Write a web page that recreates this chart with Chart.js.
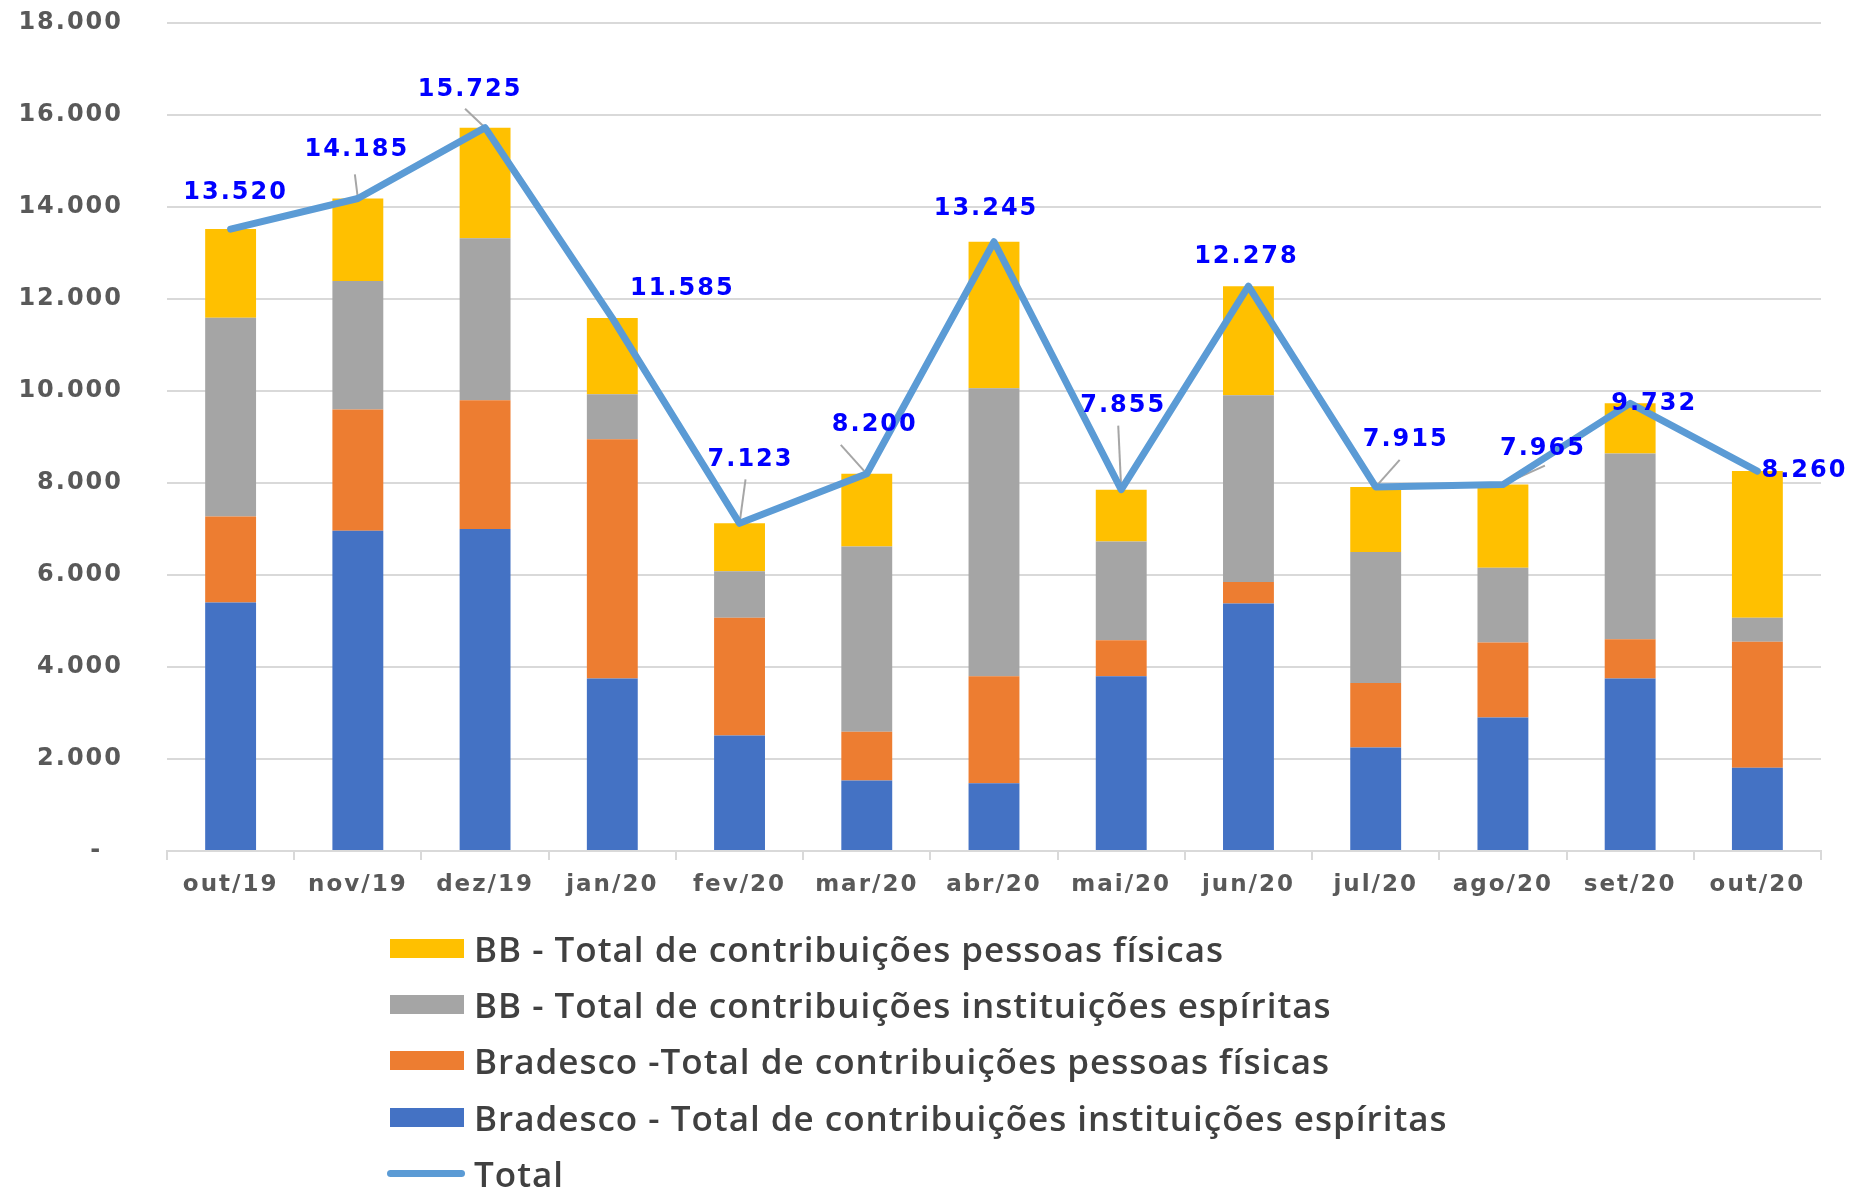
<!DOCTYPE html>
<html lang="pt-BR">
  <head>
    <meta charset="UTF-8" />
    <title>Contribuições - BB e Bradesco</title>
    <script src="https://cdn.jsdelivr.net/npm/chart.js@4.4.1/dist/chart.umd.min.js"></script>
    <style>
      html, body { margin: 0; padding: 0; background: #fff; overflow: hidden; }
      .wrap { position: relative; width: 1866px; height: 1189px; }
      #grafico { position: absolute; left: 0; top: 0; }
      #legenda {
        position: absolute; left: 387px; top: 920px;
        list-style: none; margin: 0; padding: 0;
        font-family: "Open Sans", sans-serif; font-weight: 600; font-size: 35px;
        letter-spacing: 1px; color: #404040; white-space: nowrap;
      }
      #legenda li { height: 56.3px; display: flex; align-items: center; }
      #legenda .caixa { width: 74px; height: 19px; margin-left: 3px; margin-right: 10px; }
      #legenda .linha { width: 78px; height: 7px; border-radius: 4px; margin-right: 9px; }
    </style>
  </head>
  <body>
    <div class="wrap">
      <canvas id="grafico" width="1866" height="1189"></canvas>
      <ul id="legenda"></ul>
    </div>

    <script>
      // dados
      const meses = ["out/19", "nov/19", "dez/19", "jan/20", "fev/20", "mar/20", "abr/20",
                     "mai/20", "jun/20", "jul/20", "ago/20", "set/20", "out/20"];
      const bradescoInst = [5400, 6960, 7000, 3750, 2510, 1530, 1475, 3800, 5380, 2250, 2900, 3750, 1810];
      const bradescoPF   = [1870, 2640, 2800, 5200, 2560, 1060, 2325, 780, 470, 1400, 1630, 855, 2740];
      const bbInst       = [4320, 2790, 3520, 980, 1010, 4030, 6260, 2150, 4060, 2850, 1630, 4035, 520];
      const bbPF         = [1930, 1795, 2405, 1655, 1043, 1580, 3185, 1125, 2368, 1415, 1805, 1092, 3190];
      const totais       = [13520, 14185, 15725, 11585, 7123, 8200, 13245, 7855, 12278, 7915, 7965, 9732, 8260];
      const yTicks = ["-  ", "2.000", "4.000", "6.000", "8.000", "10.000", "12.000", "14.000", "16.000", "18.000"];

      // posição dos rótulos em relação ao ponto (px) e início das linhas de chamada
      const rotuloDesloc = [[5, -36], [-1, -49], [-15, -38], [70, -29], [11, -64], [8, -49], [-8, -33],
                            [2, -84], [-2, -29], [30, -47], [40, -36], [24, 0], [47, 0]];
      const chamadas = [null, [-3, -24], [-20, -19], null, [6, -44], [-26, -29], null,
                        [-3, -64], null, [24, -27], [42, -19], null, null];

      const fmt = (v) => String(v).replace(/\B(?=(\d{3})+(?!\d))/g, ".");
      const fonteEixo = { family: "DejaVu Sans", weight: "bold", size: 23 };

      // texto um pouco mais largo, como no original
      const espacamento = {
        id: "espacamento",
        beforeLayout(chart) { chart.ctx.letterSpacing = "2px"; },
        beforeDraw(chart) { chart.ctx.letterSpacing = "2px"; },
      };

      const rotulos = {
        id: "rotulos",
        beforeDatasetsDraw(chart) {
          const ctx = chart.ctx;
          const pts = chart.getDatasetMeta(4).data;
          ctx.save();
          ctx.strokeStyle = "#a6a6a6";
          ctx.lineWidth = 2;
          pts.forEach((p, i) => {
            if (!chamadas[i]) return;
            ctx.beginPath();
            ctx.moveTo(p.x + chamadas[i][0], p.y + chamadas[i][1]);
            ctx.lineTo(p.x, p.y);
            ctx.stroke();
          });
          ctx.restore();
        },
        afterDatasetsDraw(chart) {
          const ctx = chart.ctx;
          const pts = chart.getDatasetMeta(4).data;
          ctx.save();
          ctx.letterSpacing = "2px";
          ctx.font = 'bold 24px "DejaVu Sans"';
          ctx.fillStyle = "#0000ff";
          ctx.textAlign = "center";
          ctx.textBaseline = "middle";
          pts.forEach((p, i) => {
            ctx.fillText(fmt(totais[i]), p.x + rotuloDesloc[i][0], p.y + rotuloDesloc[i][1]);
          });
          ctx.restore();
        },
      };

      const grafico = new Chart(document.getElementById("grafico"), {
        type: "bar",
        data: {
          labels: meses,
          datasets: [
            { label: "Bradesco - Total de contribuições instituições espíritas", data: bradescoInst, backgroundColor: "#4472c4", order: 1 },
            { label: "Bradesco -Total de contribuições pessoas físicas", data: bradescoPF, backgroundColor: "#ed7d31", order: 1 },
            { label: "BB - Total de contribuições instituições espíritas", data: bbInst, backgroundColor: "#a5a5a5", order: 1 },
            { label: "BB - Total de contribuições pessoas físicas", data: bbPF, backgroundColor: "#ffc000", order: 1 },
            {
              type: "line", label: "Total", data: totais, stack: "total", order: 0,
              borderColor: "#5b9bd5", backgroundColor: "#5b9bd5", borderWidth: 7,
              pointRadius: 0, tension: 0, borderJoinStyle: "round", borderCapStyle: "round",
            },
          ],
        },
        options: {
          responsive: false,
          animation: false,
          datasets: { bar: { categoryPercentage: 1, barPercentage: 0.4 } },
          layout: { padding: { left: 0, right: 45, top: 23, bottom: 278 } },
          plugins: { legend: { display: false }, tooltip: { enabled: false } },
          scales: {
            x: {
              stacked: true,
              afterFit: (s) => { s.height = 60; },
              grid: { offset: true, drawOnChartArea: false, tickLength: 9, color: "#d9d9d9", lineWidth: 2 },
              border: { color: "#d9d9d9", width: 2 },
              ticks: { padding: 11, font: fonteEixo, color: "#595959", maxRotation: 0 },
            },
            y: {
              stacked: true,
              min: 0,
              max: 18000,
              afterFit: (s) => { s.width = 167; },
              grid: { color: "#d9d9d9", lineWidth: 2, tickLength: 44, tickColor: "transparent" },
              border: { display: false },
              ticks: {
                stepSize: 2000,
                padding: 0,
                font: { family: "DejaVu Sans", weight: "bold", size: 24 },
                color: "#595959",
                callback: (v, i) => yTicks[i],
              },
            },
          },
        },
        plugins: [espacamento, rotulos],
      });

      // legenda na mesma ordem do original
      const legenda = document.getElementById("legenda");
      [3, 2, 1, 0, 4].forEach((k) => {
        const ds = grafico.data.datasets[k];
        const li = document.createElement("li");
        const marca = document.createElement("span");
        marca.className = ds.type === "line" ? "linha" : "caixa";
        marca.style.background = ds.type === "line" ? ds.borderColor : ds.backgroundColor;
        li.appendChild(marca);
        li.appendChild(document.createTextNode(ds.label));
        legenda.appendChild(li);
      });
    </script>
  </body>
</html>
